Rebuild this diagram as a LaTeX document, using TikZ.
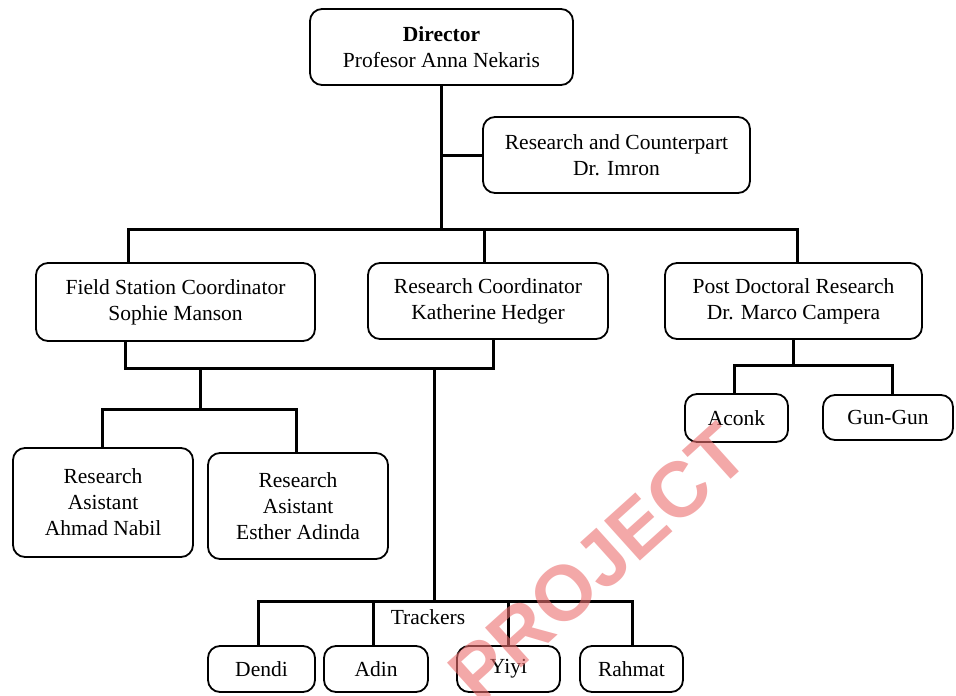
\documentclass[tikz,border=0pt]{standalone}
\usepackage{fontspec}
\setmainfont{Liberation Serif}
\newfontfamily\wmfont{Liberation Sans}
\begin{document}
\begin{tikzpicture}[x=1pt,y=-1pt,
  box/.style={draw, rounded corners=12pt, line width=1.8pt, align=center, inner sep=0pt,
    font=\fontsize{21.5}{26}\selectfont, fill=white},
  conn/.style={line width=3pt, line join=miter},
  lbl/.style={font=\fontsize{21.5}{26}\selectfont, inner sep=1pt}]
\useasboundingbox[fill=white] (0,0) rectangle (956,696);

% nodes
\node[box, minimum width=263pt, minimum height=76pt] (dir) at (441.5,47) {\textbf{Director}\\Profesor Anna Nekaris};
\node[box, minimum width=267pt, minimum height=76pt] (cp) at (616.5,155) {Research and Counterpart\\Dr. Imron};
\node[box, minimum width=279pt, minimum height=78pt] (fsc) at (175.5,302) {Field Station Coordinator\\Sophie Manson};
\node[box, minimum width=240pt, minimum height=76pt] (rc) at (488,301) {Research Coordinator\\Katherine Hedger};
\node[box, minimum width=257pt, minimum height=76pt] (pdr) at (793.5,301) {Post Doctoral Research\\Dr. Marco Campera};
\node[box, minimum width=180pt, minimum height=109pt] (ra1) at (103,502.5) {Research\\Asistant\\Ahmad Nabil};
\node[box, minimum width=180pt, minimum height=106pt] (ra2) at (298,506) {Research\\Asistant\\Esther Adinda};
\node[box, minimum width=103pt, minimum height=48pt] (aconk) at (736.5,418) {Aconk};
\node[box, minimum width=130pt, minimum height=45pt] (gun) at (888,417.5) {Gun-Gun};
\node[box, minimum width=107pt, minimum height=46pt] (dendi) at (261.5,669) {Dendi};
\node[box, minimum width=104pt, minimum height=46pt] (adin) at (376,669) {Adin};
\node[box, minimum width=103pt, minimum height=46pt] (yiyi) at (508.5,669) {Yiyi};
\node[box, minimum width=103pt, minimum height=46pt] (rahmat) at (631.5,669) {Rahmat};
\node[lbl] (trk) at (428,617) {Trackers};

% junction coordinates
\coordinate (b1L) at (128,229);
\coordinate (b1M) at (484,229);
\coordinate (b1R) at (797,229);
\coordinate (b2L) at (125,368);
\coordinate (b2R) at (493,368);
\coordinate (b2M) at (200,368);
\coordinate (b3M) at (200,409);
\coordinate (b3L) at (102,409);
\coordinate (b3R) at (296,409);
\coordinate (t0) at (434,368);
\coordinate (t1) at (434,601);
\coordinate (tA) at (258,601);
\coordinate (tB) at (373,601);
\coordinate (tC) at (508,601);
\coordinate (tD) at (632,601);
\coordinate (p0) at (793,365);
\coordinate (pL) at (734,365);
\coordinate (pR) at (892,365);

% connectors
\draw[conn] (dir.south) -- (dir.south |- b1L);
\draw[conn] (dir.south |- cp.west) -- (cp.west);
\draw[conn] (b1L |- fsc.north) -- (b1L) -- (b1R) -- (b1R |- pdr.north);
\draw[conn] (b1M) -- (b1M |- rc.north);
\draw[conn] (b2L |- fsc.south) -- (b2L) -- (b2R) -- (b2R |- rc.south);
\draw[conn] (b2M) -- (b3M);
\draw[conn] (b3L |- ra1.north) -- (b3L) -- (b3R) -- (b3R |- ra2.north);
\draw[conn] (t0) -- (t1);
\draw[conn] (tA |- dendi.north) -- (tA) -- (tD) -- (tD |- rahmat.north);
\draw[conn] (tB) -- (tB |- adin.north);
\draw[conn] (tC) -- (tC |- yiyi.north);
\draw[conn] (p0 |- pdr.south) -- (p0);
\draw[conn] (pL |- aconk.north) -- (pL) -- (pR) -- (pR |- gun.north);

% watermark
\node[text={rgb,255:red,236;green,110;blue,110}, opacity=0.6, rotate=42,
  font=\wmfont\bfseries\fontsize{78}{78}\selectfont, inner sep=0pt] (wm) at (598,563) {PROJECT};
\end{tikzpicture}
\end{document}
